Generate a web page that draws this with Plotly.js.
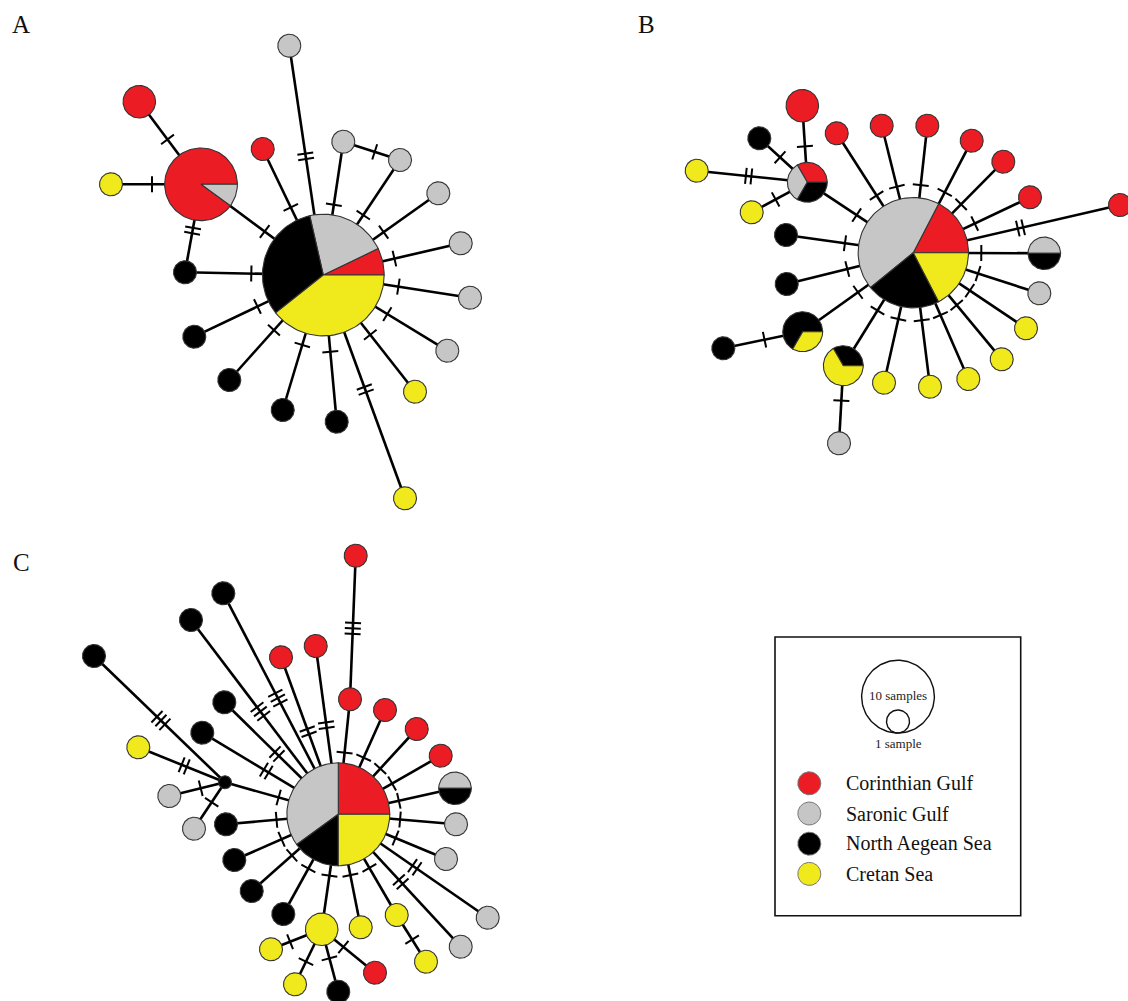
<!DOCTYPE html>
<html><head><meta charset="utf-8">
<script src="https://cdn.plot.ly/plotly-3.0.1.min.js"></script>
<style>html,body{margin:0;padding:0;background:#fff;overflow:hidden}#chart{width:1128px;height:1001px}</style>
</head><body><div id="chart"></div>
<script>
// ---------- categories ----------
const populations = ['Corinthian Gulf','Saronic Gulf','North Aegean Sea','Cretan Sea'];
const popColors   = ['#ec1c24','#c6c6c6','#000000','#f0e91c'];
const panelLabels = ['A','B','C'];
const sizeLegendCounts = [10, 1];
const sizeLegendLabels = ['10 samples','1 sample'];

// ---------- Network A ----------
const A_x = [323.3,201,139.3,111,185,262.7,289.3,343.3,400,438.3,460.7,470,447.3,415,405,336.7,282.7,229.3,194.3];
const A_y = [275,184.3,101.7,184.3,272.3,149,45.7,141.7,160,193.3,243.3,297.7,350.7,391.7,498.3,421.7,410,380,336.7];
const A_red   = [2,9,2,0,0,1,0,0,0,0,0,0,0,0,0,0,0,0,0];
const A_grey  = [6,1,0,0,0,0,1,1,1,1,1,1,1,0,0,0,0,0,0];
const A_black = [9,0,0,0,1,0,0,0,0,0,0,0,0,0,0,1,1,1,1];
const A_yel   = [11,0,0,1,0,0,0,0,0,0,0,0,0,1,1,0,0,0,0];
const A_from  = [0,0,0,0,0,0,0,0,0,0,0,0,0,0,0,0,1,1,1,7];
const A_to    = [1,4,5,6,7,8,9,10,11,12,13,14,15,16,17,18,2,3,4,8];
const A_mut   = [1,1,1,2,1,1,1,1,1,1,1,2,1,1,1,1,1,1,2,1];
const A_tick  = [73,72,75,120,71,72,74,73,76,75,76,122,77,73,74,73,56,49,47,33];

// ---------- Network B ----------
const B_x = [913.3,807.3,802.3,759.3,696.7,751.7,786,786.7,802.7,723.3,843.3,839,884,930,968.3,1001.7,1026,1039.3,1044.3,1120,1030,1003.3,971.7,927.3,881.7,836.7];
const B_y = [252.7,182.3,105.7,138.3,170.7,212.3,235,284,331.7,348.3,365.7,443.3,382.7,386.7,379,359.3,328.3,293.3,253.3,205,197.3,161.7,140.7,125.7,125.7,133.3];
const B_red   = [4,1,2,0,0,0,0,0,0,0,0,0,0,0,0,0,0,0,0,1,1,1,1,1,1,1];
const B_grey  = [10,1,0,0,0,0,0,0,0,0,0,1,0,0,0,0,0,1,1,0,0,0,0,0,0,0];
const B_black = [5,1,0,1,0,0,1,1,2,1,1,0,0,0,0,0,0,0,1,0,0,0,0,0,0,0];
const B_yel   = [4,0,0,0,1,1,0,0,1,0,2,0,1,1,1,1,1,0,0,0,0,0,0,0,0,0];
const B_from  = [0,1,1,1,1,0,0,0,8,0,10,0,0,0,0,0,0,0,0,0,0,0,0,0,0];
const B_to    = [1,2,3,4,5,6,7,8,9,10,11,12,13,14,15,16,17,18,19,20,21,22,23,24,25];
const B_mut   = [1,1,1,2,1,1,1,1,1,1,1,1,1,1,1,1,1,1,2,1,1,1,1,1,1];
const B_tick  = [68,36,37,59,36,69,68,68,39,68,35,68,68,68,68,68,68,68,110,68,68,68,68,68,68];

// ---------- Network C ----------
const C_x = [338.3,355.7,350,315.7,281,385,416.7,440.7,455,456,446,487.7,460.7,426,396.7,360.7,321.7,375,338.3,295,271,283.3,251.7,234.3,226,225,194,169.3,138.3,94,202.3,224.3,191,223.3];
const C_y = [814.3,555.7,699.3,646,657.3,710,729,755.7,788.3,824.3,859,917.7,946.7,961.7,915,927.3,929.3,972.7,991.7,984.3,949.3,914,891,860,824.3,782.3,828.7,796,747.3,656,732.7,702.3,620,593.3];
const C_red   = [5,1,1,1,1,1,1,1,0,0,0,0,0,0,0,0,0,1,0,0,0,0,0,0,0,0,0,0,0,0,0,0,0,0];
const C_grey  = [7,0,0,0,0,0,0,0,1,1,1,1,1,0,0,0,0,0,0,0,0,0,0,0,0,0,1,1,0,0,0,0,0,0];
const C_black = [3,0,0,0,0,0,0,0,1,0,0,0,0,0,0,0,0,0,1,0,0,1,1,1,1,0,0,0,0,1,1,1,1,1];
const C_yel   = [5,0,0,0,0,0,0,0,0,0,0,0,0,1,1,1,2,0,0,1,1,0,0,0,0,0,0,0,1,0,0,0,0,0];
const C_from  = [0,2,0,0,0,0,0,0,0,0,0,0,0,14,0,0,16,16,16,16,0,0,0,0,0,25,25,25,25,0,0,0,0];
const C_to    = [2,1,3,4,5,6,7,8,9,10,11,12,14,13,15,16,17,18,19,20,21,22,23,24,25,26,27,28,29,30,31,32,33];
const C_mut   = [1,3,2,2,1,1,1,1,1,1,2,2,1,1,1,1,1,1,1,1,1,1,1,1,1,1,1,2,3,2,2,3,3];
const C_tick  = [62,71,90,88,62,62,62,62,62,62,93,92,62,29,62,62,28,30,36,34,62,62,62,62,62,24,25,44,89,84,86,129,131];

// ---------- drawing ----------
const R1 = 11.5, MEDIAN_R = 6.5;
const TICK_HALF = 8, TICK_GAP = 5.5;
function radius(n){ return n > 0 ? R1*Math.sqrt(n) : MEDIAN_R; }
function arc(cx, cy, r, a0, a1){
  const pts = [], steps = Math.max(6, Math.ceil(Math.abs(a1-a0)/3));
  for (let i=0;i<=steps;i++){
    const a = (a0 + (a1-a0)*i/steps)*Math.PI/180;
    pts.push([cx + r*Math.cos(a), cy - r*Math.sin(a)]);
  }
  return pts;
}
const nets = [
  {x:A_x,y:A_y,c:[A_red,A_grey,A_black,A_yel],f:A_from,t:A_to,m:A_mut,d:A_tick},
  {x:B_x,y:B_y,c:[B_red,B_grey,B_black,B_yel],f:B_from,t:B_to,m:B_mut,d:B_tick},
  {x:C_x,y:C_y,c:[C_red,C_grey,C_black,C_yel],f:C_from,t:C_to,m:C_mut,d:C_tick}
];
const edgeX=[], edgeY=[], tickX=[], tickY=[];
const slice = popColors.map(()=>({x:[],y:[]}));
function pushPoly(bucket, pts){ pts.forEach(p=>{bucket.x.push(p[0]);bucket.y.push(p[1]);}); bucket.x.push(null); bucket.y.push(null); }

nets.forEach(net=>{
  net.f.forEach((fi,k)=>{
    const ti = net.t[k];
    const x0=net.x[fi], y0=net.y[fi], x1=net.x[ti], y1=net.y[ti];
    edgeX.push(x0,x1,null); edgeY.push(y0,y1,null);
    const L = Math.hypot(x1-x0,y1-y0), ux=(x1-x0)/L, uy=(y1-y0)/L, px=-uy, py=ux;
    const m = net.m[k];
    for (let j=0;j<m;j++){
      const off = net.d[k] + (j-(m-1)/2)*TICK_GAP;
      const cx = x0+ux*off, cy = y0+uy*off;
      tickX.push(cx-px*TICK_HALF, cx+px*TICK_HALF, null);
      tickY.push(cy-py*TICK_HALF, cy+py*TICK_HALF, null);
    }
  });
  net.x.forEach((cx,i)=>{
    const cy = net.y[i];
    const counts = net.c.map(a=>a[i]);
    const tot = counts.reduce((s,v)=>s+v,0);
    const r = radius(tot);
    if (tot === 0){ pushPoly(slice[2], arc(cx,cy,r,0,360)); return; }
    const nz = counts.filter(v=>v>0).length;
    if (nz === 1){ pushPoly(slice[counts.findIndex(v=>v>0)], arc(cx,cy,r,0,360)); return; }
    let a = 0;
    counts.forEach((v,p)=>{
      if (!v) return;
      const a1 = a + 360*v/tot;
      pushPoly(slice[p], [[cx,cy]].concat(arc(cx,cy,r,a,a1)).concat([[cx,cy]]));
      a = a1;
    });
  });
});

const traces = [
  {type:'scatter',mode:'lines',x:edgeX,y:edgeY,line:{color:'#000',width:2.6},hoverinfo:'skip'},
  {type:'scatter',mode:'lines',x:tickX,y:tickY,line:{color:'#000',width:2},hoverinfo:'skip'}
];
slice.forEach((b,p)=>traces.push({type:'scatter',mode:'lines',x:b.x,y:b.y,fill:'toself',fillcolor:popColors[p],
  line:{color:'#333',width:1.1},hoverinfo:'skip',name:populations[p]}));

// ---------- legend ----------
const LEG = {x0:775, y0:637, x1:1020.7, y1:915.7, cx:898, base:733, swX:809.3, swY0:783.3, swDY:30.2, txtX:844};
const sizeOut = {x:[],y:[]};
sizeLegendCounts.forEach(n=>{ const r=radius(n); pushPoly(sizeOut, arc(LEG.cx, LEG.base-r, r, 90, 450)); });
traces.push({type:'scatter',mode:'lines',x:sizeOut.x,y:sizeOut.y,line:{color:'#111',width:1.4},hoverinfo:'skip'});
populations.forEach((name,p)=>{
  const b={x:[],y:[]}; pushPoly(b, arc(LEG.swX, LEG.swY0+p*LEG.swDY, radius(1), 0, 360));
  traces.push({type:'scatter',mode:'lines',x:b.x,y:b.y,fill:'toself',fillcolor:popColors[p],line:{color:'#777',width:1},hoverinfo:'skip'});
});

const serif = 'Liberation Serif, Times New Roman, serif';
const annotations = [];
const labelPos = [[21,24],[646,24],[21,562]];
panelLabels.forEach((t,i)=>annotations.push({x:labelPos[i][0],y:labelPos[i][1],xref:'x',yref:'y',text:t,showarrow:false,
  font:{family:serif,size:25,color:'#111'}}));
annotations.push({x:LEG.cx,y:LEG.base-radius(10)-1.5,xref:'x',yref:'y',text:sizeLegendLabels[0],showarrow:false,font:{family:serif,size:13,color:'#222'}});
annotations.push({x:LEG.cx,y:LEG.base+10.5,xref:'x',yref:'y',text:sizeLegendLabels[1],showarrow:false,font:{family:serif,size:13,color:'#222'}});
populations.forEach((name,p)=>annotations.push({x:LEG.txtX,y:LEG.swY0+p*LEG.swDY,xref:'x',yref:'y',xanchor:'left',text:name,showarrow:false,
  font:{family:serif,size:20,color:'#111'}}));

const layout = {
  width:1128,height:1001,margin:{l:0,r:0,t:0,b:0},paper_bgcolor:'#fff',plot_bgcolor:'#fff',showlegend:false,
  xaxis:{range:[0,1128],visible:false,fixedrange:true},
  yaxis:{range:[1001,0],visible:false,fixedrange:true},
  shapes:[{type:'rect',xref:'x',yref:'y',x0:LEG.x0,y0:LEG.y0,x1:LEG.x1,y1:LEG.y1,line:{color:'#111',width:1.6}}],
  annotations:annotations
};
Plotly.newPlot('chart', traces, layout, {staticPlot:true,displayModeBar:false});
</script></body></html>
